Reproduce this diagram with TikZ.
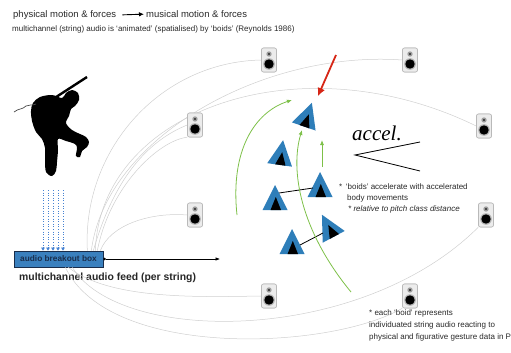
\documentclass[tikz,border=0pt]{standalone}
\usepackage{fontspec}
\setmainfont{Liberation Sans}
\newfontfamily\accelfont{Liberation Serif}
\usetikzlibrary{arrows.meta}

\definecolor{boidblue}{RGB}{46,126,185}
\definecolor{boxblue}{RGB}{58,128,190}
\definecolor{boxedge}{RGB}{25,45,75}
\definecolor{leafgreen}{RGB}{125,192,72}
\definecolor{alarmred}{RGB}{214,38,22}
\definecolor{feedblue}{RGB}{70,130,210}
\definecolor{inktext}{RGB}{40,40,40}

\tikzset{
  boid/.pic={
    \fill[boidblue] (0,-15) -- (12.5,10) -- (-12.5,10) -- cycle;
    \fill[black] (0.8,-3) -- (6,10) -- (-4.5,10) -- cycle;
    \coordinate (-c) at (0,0);
  }
}

\begin{document}
\begin{tikzpicture}[x=1pt,y=-1pt,
  wire/.style={draw=gray!38, line width=0.5pt},
  speaker/.style={draw=gray!55, fill=gray!15, rounded corners=2pt,
    minimum width=15pt, minimum height=24pt, inner sep=0pt, line width=0.6pt,
    path picture={
      \coordinate (pc) at (path picture bounding box.center);
      \fill[gray!75] ([yshift=6pt]pc) circle (2.7pt);
      \fill[black!85] ([yshift=6pt]pc) circle (1.1pt);
      \fill[gray!60] ([yshift=-4pt]pc) circle (5.8pt);
      \fill[black] ([yshift=-4pt]pc) circle (4.7pt);
    }},
  small/.style={font=\fontsize{8}{9}\selectfont, text=inktext, inner sep=0pt, anchor=base west},
  greenarrow/.style={draw=leafgreen, line width=0.8pt, -{Latex[length=5pt,width=4pt]}},
  feed/.style={draw=feedblue, dotted, line width=0.6pt, -{Triangle[length=3pt,width=3.5pt]}},
]
\useasboundingbox (0,0) rectangle (511,353);

% ---- headings ----
\node[anchor=base west, inner sep=0pt, text=inktext, font=\fontsize{9.5}{11}\selectfont] (t1) at (13,17.5) {physical motion \& forces};
\node[anchor=base west, inner sep=0pt, text=inktext, font=\fontsize{9.5}{11}\selectfont] (t2) at (146,17.5) {musical motion \& forces};
\draw[line width=0.9pt, -{Latex[length=5pt,width=4.5pt]}, shorten <=6pt, shorten >=2pt] (t1.east) -- (t2.west);
\node[small] (sub) at (12,32) {multichannel (string) audio is ‘animated’ (spatialised) by ‘boids’ (Reynolds 1986)};

% ---- loudspeakers ----
\node[speaker] (s1) at (269,60) {};
\node[speaker] (s2) at (410,60) {};
\node[speaker] (s3) at (195,125) {};
\node[speaker] (s4) at (484,126) {};
\node[speaker] (s5) at (195,215) {};
\node[speaker] (s6) at (486,215) {};
\node[speaker] (s7) at (269,296) {};
\node[speaker] (s8) at (410,296) {};

% ---- breakout box ----
\node[draw=boxedge, fill=boxblue, line width=0.7pt, minimum width=89pt, minimum height=16pt, inner sep=0pt,
      font=\bfseries\fontsize{8.3}{9}\selectfont, text=boxedge] (box) at (58.5,259) {audio breakout box};
\node[anchor=base west, inner sep=0pt, text=black!85, font=\bfseries\fontsize{10.4}{12}\selectfont] (feedlabel) at (19,280.5) {multichannel audio feed (per string)};

% ---- cables from the box to the speakers ----
\draw[wire] ([xshift=-16pt]box.north east) .. controls (82,150) and (160,62) .. (s1.west);
\draw[wire] ([xshift=-12pt]box.north east) .. controls (105,140) and (260,50) .. (s2.west);
\draw[wire] ([xshift=-8pt]box.north east) .. controls (100,110) and (300,40) .. (s4.west);
\draw[wire] ([xshift=-6pt]box.north east) .. controls (110,185) and (160,140) .. (s3.south west);
\draw[wire] ([xshift=-10pt]box.north east) .. controls (115,175) and (150,140) .. (s3.west);
\draw[wire] ([xshift=-3pt]box.north east) .. controls (110,225) and (150,212) .. (s5.west);
\draw[wire] ([xshift=-35pt]box.south east) .. controls (110,300) and (200,297) .. (s7.west);
\draw[wire] ([xshift=-31pt]box.south east) .. controls (120,345) and (360,345) .. (s6.south west);
\draw[wire] ([xshift=-38pt]box.south east) .. controls (110,360) and (330,350) .. (s8.south west);
\foreach \s in {s1,s2,s3,s4,s5,s6,s7,s8}{\node[speaker] at (\s) {};}

% ---- signal feed into the box ----
\foreach \x [count=\i] in {43,48,53,58,63}{
  \coordinate (f\i) at (\x,190);
  \draw[feed] (f\i) -- (f\i |- box.north);
}
\coordinate (feedend) at (220,259);
\draw[line width=0.6pt, {Circle[length=2.5pt]}-{Latex[length=4.5pt,width=3.5pt]}] (box.east) -- (feedend);

% ---- jumping guitarist ----
\fill[black] plot[smooth cycle, tension=0.55] coordinates {
  (33,103) (40,97) (52,95) (62,98) (66,93) (72,90) (78,93) (79,100) (75,106)
  (71,109) (69,116) (66,123) (72,130) (80,134) (86,137) (89,142)
  (87,147) (82,151) (80,157) (76,156) (77,148) (75,144) (66,141) (58,139)
  (58,150) (57,162) (56,171) (52,176) (46,172) (45,160) (45,148) (42,139)
  (36,132) (32,121) (31,111)};
\draw[line width=2.4pt] (50,101) -- (87,77);
\draw[line width=0.7pt, gray!60!black] (14,112) .. controls (19,108) and (22,110) .. (26,106) .. controls (29,104) and (32,106) .. (36,104);

% ---- boids ----
\pic[rotate=-19] (b1) at (307,117) {boid};
\pic[rotate=-8]  (b2) at (281,155) {boid};
\pic             (b3) at (320,187) {boid};
\pic             (b4) at (275,200) {boid};
\pic[rotate=28]  (b5) at (329,228) {boid};
\pic             (b6) at (292,244) {boid};
\coordinate (l1a) at (279,193); \coordinate (l1b) at (313,188);
\coordinate (l2a) at (300,245); \coordinate (l2b) at (323,233);
\draw[line width=0.8pt] (l1a) -- (l1b);
\draw[line width=0.8pt] (l2a) -- (l2b);

% ---- motion arrows ----
\coordinate (g1a) at (237,215); \coordinate (g1b) at (292,100);
\coordinate (g2a) at (351,292); \coordinate (g2b) at (302,130);
\coordinate (g3a) at (322,167); \coordinate (g3b) at (322,140);
\draw[greenarrow] (g1a) .. controls (230,150) and (255,112) .. (g1b);
\draw[greenarrow] (g2a) .. controls (300,230) and (290,170) .. (g2b);
\draw[greenarrow] (g3a) -- (g3b);
\coordinate (ra) at (336,55); \coordinate (rb) at (318,96);
\draw[draw=alarmred, line width=1.8pt, -{Latex[length=8pt,width=8pt]}] (ra) -- (rb);

% ---- acceleration marking ----
\node[anchor=base west, inner sep=0pt, font=\accelfont\itshape\fontsize{21}{24}\selectfont] (accel) at (352,140) {accel.};
\coordinate (h1) at (420,142); \coordinate (h2) at (355,155); \coordinate (h3) at (420,171);
\draw[line width=0.8pt] (h1) -- (h2) -- (h3);

% ---- notes ----
\node[small] (n1) at (339,189) {*\, ‘boids’ accelerate with accelerated};
\node[small] (n2) at (347,200) {body movements};
\node[small, font=\itshape\fontsize{8}{9}\selectfont] (n3) at (348,211) {* relative to pitch class distance};
\node[small] (m1) at (369,315) {* each ‘boid’ represents};
\node[small] (m2) at (369,327) {individuated string audio reacting to};
\node[small] (m3) at (369,339) {physical and figurative gesture data in P};
\end{tikzpicture}
\end{document}
